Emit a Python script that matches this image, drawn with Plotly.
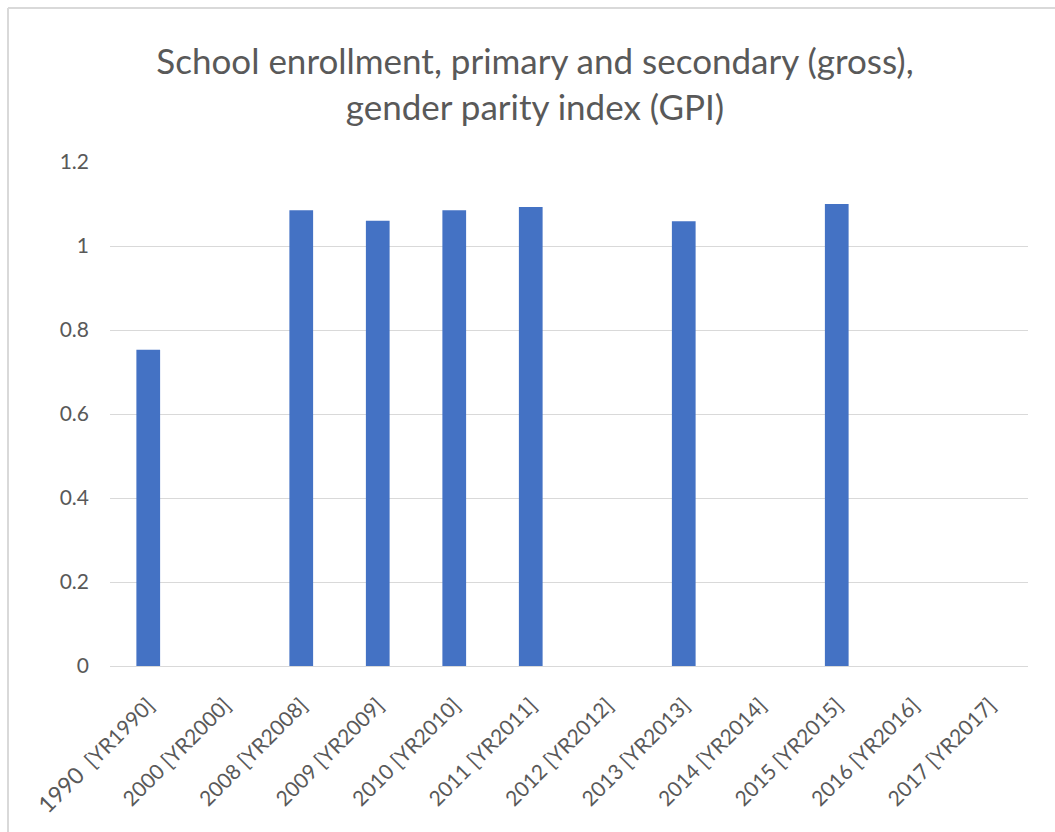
import plotly.graph_objects as go

# Gross enrollment GPI by year (blank where no data reported)
categories = [
    "1990  [YR1990]", "2000 [YR2000]", "2008 [YR2008]", "2009 [YR2009]",
    "2010 [YR2010]", "2011 [YR2011]", "2012 [YR2012]", "2013 [YR2013]",
    "2014 [YR2014]", "2015 [YR2015]", "2016 [YR2016]", "2017 [YR2017]",
]
gpi_values = [0.753, None, 1.085, 1.060, 1.085, 1.093, None, 1.059, None, 1.100, None, None]
y_ticks = [0, 0.2, 0.4, 0.6, 0.8, 1.0, 1.2]
y_tick_labels = ["0", "0.2", "0.4", "0.6", "0.8", "1", "1.2"]

W, H = 1055, 832
ML, MR, MT, MB = 110, 27, 162, 166
TEXT = "#595959"
GRID = "#d9d9d9"
FONT = "Lato, 'Open Sans', sans-serif"


def fmt_tick(label):
    # the first label carries a slightly larger year and a double space
    year, rest = label.split(" ", 1)
    rest = rest.strip()
    if label.startswith("1990"):
        return f'<span style="font-size:23px">{year}</span>\u00a0\u00a0{rest}'
    return f"{year} {rest}"


tick_text = [fmt_tick(c) for c in categories]

fig = go.Figure(
    go.Bar(
        x=list(range(len(categories))),
        y=gpi_values,
        marker=dict(color="#4472C4", line=dict(width=0)),
        hoverinfo="y",
    )
)

fig.update_layout(
    width=W,
    height=H,
    margin=dict(l=ML, r=MR, t=MT, b=MB),
    paper_bgcolor="white",
    plot_bgcolor="white",
    bargap=0.69,
    showlegend=False,
    font=dict(family=FONT, color=TEXT),
    title=dict(
        text="School enrollment, primary and secondary (gross),<br>gender parity index (GPI)",
        x=535 / W,
        xref="container",
        xanchor="center",
        y=1 - 74 / H,
        yanchor="middle",
        yref="container",
        font=dict(size=35, color=TEXT, family=FONT),
    ),
    xaxis=dict(
        tickmode="array",
        tickvals=list(range(len(categories))),
        ticktext=tick_text,
        tickangle=-45,
        range=[-0.5, len(categories) - 0.5],
        showgrid=False,
        showline=False,
        ticks="",
        ticklabelstandoff=22,
        tickfont=dict(size=21, color=TEXT),
        fixedrange=True,
    ),
    yaxis=dict(
        range=[0, 1.2],
        tickmode="array",
        tickvals=y_ticks,
        ticktext=y_tick_labels,
        showgrid=True,
        gridcolor=GRID,
        gridwidth=1,
        zeroline=True,
        zerolinecolor=GRID,
        zerolinewidth=1,
        showline=False,
        ticks="",
        ticklabelstandoff=20,
        tickfont=dict(size=21, color=TEXT),
        fixedrange=True,
    ),
)

# Chart outline (top and left edges)
pw = W - ML - MR
ph = H - MT - MB


def px_x(p):
    return (p - ML) / pw


def px_y(p):
    return (H - MB - p) / ph


fig.add_shape(type="line", xref="paper", yref="paper",
              x0=px_x(8), x1=px_x(W + 5), y0=px_y(8), y1=px_y(8),
              line=dict(color=GRID, width=2), layer="below")
fig.add_shape(type="line", xref="paper", yref="paper",
              x0=px_x(8), x1=px_x(8), y0=px_y(8), y1=px_y(H + 5),
              line=dict(color=GRID, width=2), layer="below")

fig.write_html("out.html")
